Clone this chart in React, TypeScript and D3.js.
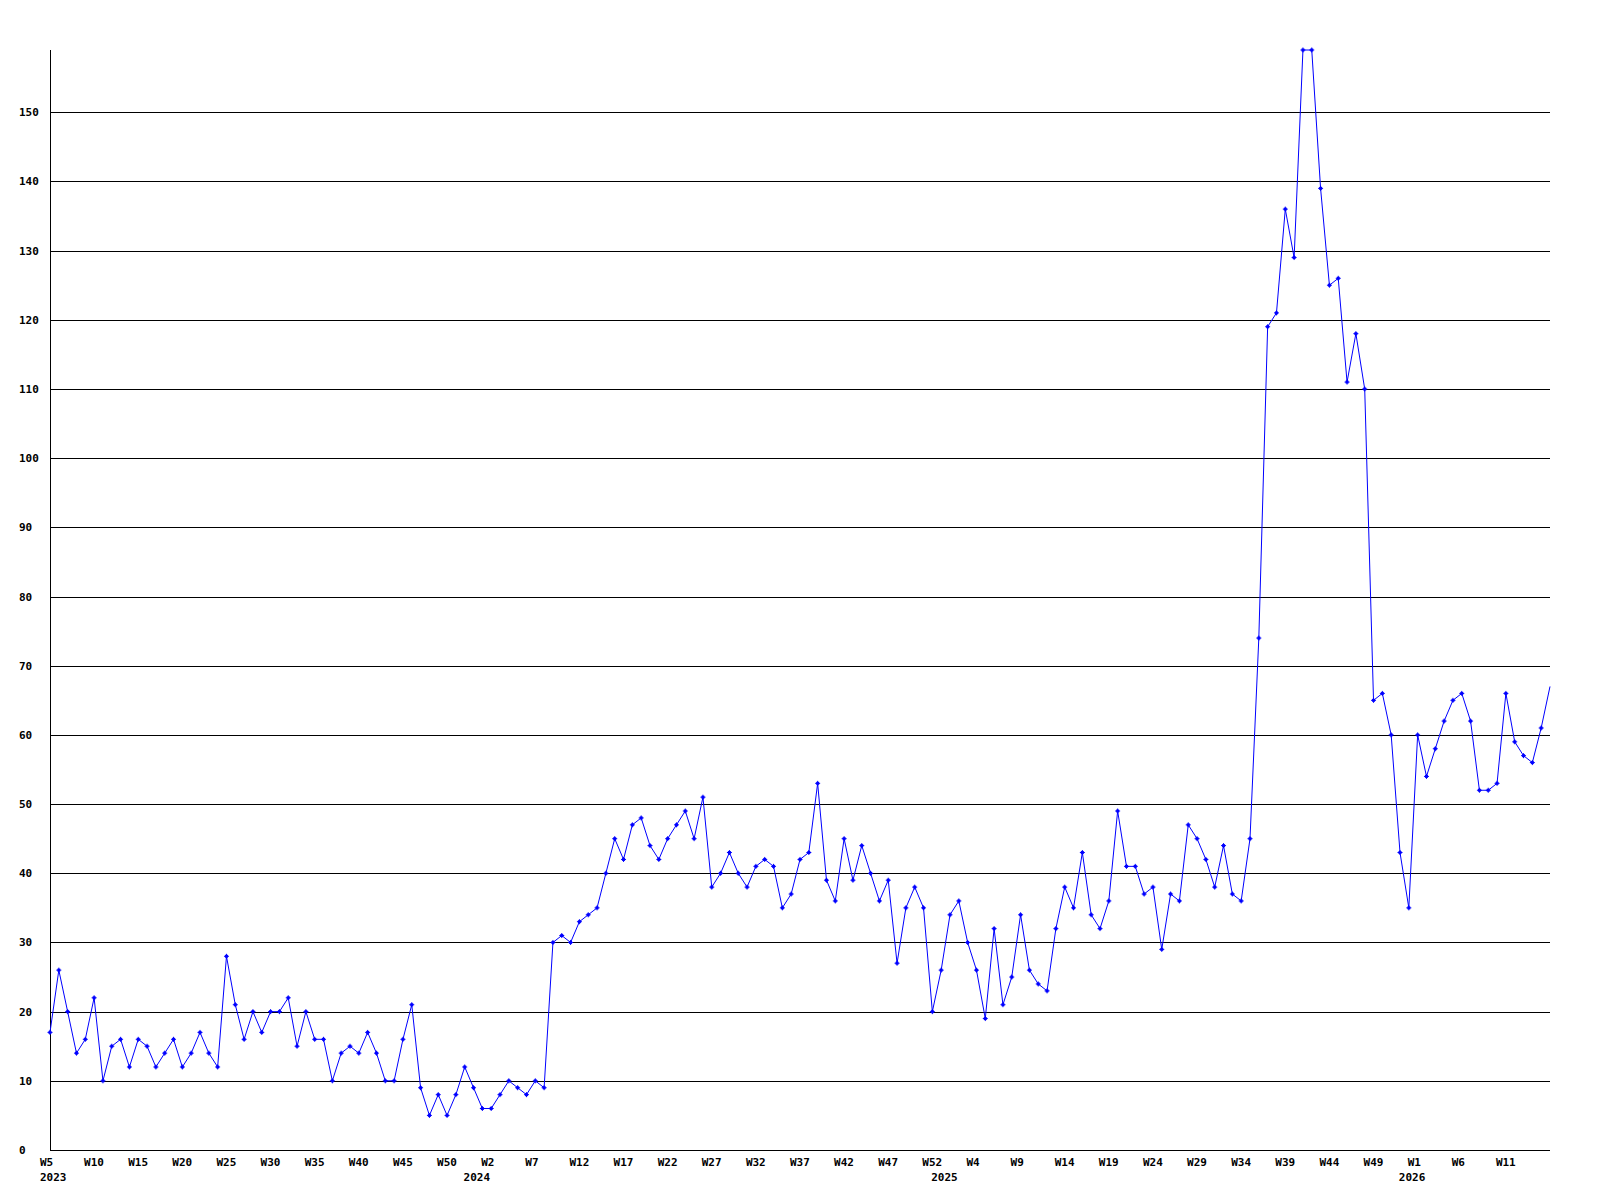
import React, { useRef, useEffect } from 'react';
import * as d3 from 'd3';

// weekly counts, one array per year (2023 starts at W5, later years at W0)
const years = [2023, 2024, 2025, 2026];
const firstWeek = [5, 0, 0, 0];

const counts2023 = [
  17, 26, 20, 14, 16, 22, 10, 15, 16, 12, 16, 15, 12, 14, 16, 12, 14, 17, 14, 12,
  28, 21, 16, 20, 17, 20, 20, 22, 15, 20, 16, 16, 10, 14, 15, 14, 17, 14, 10, 10,
  16, 21, 9, 5, 8, 5, 8, 12,
];
const counts2024 = [
  9, 6, 6, 8, 10, 9, 8, 10, 9, 30, 31, 30, 33, 34, 35, 40, 45, 42, 47, 48,
  44, 42, 45, 47, 49, 45, 51, 38, 40, 43, 40, 38, 41, 42, 41, 35, 37, 42, 43, 53,
  39, 36, 45, 39, 44, 40, 36, 39, 27, 35, 38, 35, 20,
];
const counts2025 = [
  26, 34, 36, 30, 26, 19, 32, 21, 25, 34, 26, 24, 23, 32, 38, 35, 43, 34, 32, 36,
  49, 41, 41, 37, 38, 29, 37, 36, 47, 45, 42, 38, 44, 37, 36, 45, 74, 119, 121, 136,
  129, 159, 159, 139, 125, 126, 111, 118, 110, 65, 66, 60, 43,
];
const counts2026 = [35, 60, 54, 58, 62, 65, 66, 62, 52, 52, 53, 66, 59, 57, 56, 61, 67];

const yTicks = [0, 10, 20, 30, 40, 50, 60, 70, 80, 90, 100, 110, 120, 130, 140, 150];
const yMax = 159;
const labelEvery = 5;

export default function App() {
  const svgRef = useRef<SVGSVGElement | null>(null);

  useEffect(() => {
    const width = 1600;
    const height = 1200;
    const margin = { top: 50, right: 50, bottom: 50, left: 50 };
    const font = '"DejaVu Sans Mono", monospace';

    // flatten into one series of week points
    const data: { year: number; week: number; value: number; first: boolean }[] = [];
    [counts2023, counts2024, counts2025, counts2026].forEach((arr, yi) => {
      arr.forEach((v, k) => {
        data.push({ year: years[yi], week: firstWeek[yi] + k, value: v, first: k === 0 });
      });
    });

    const svg = d3.select(svgRef.current);
    svg.selectAll('*').remove();
    svg.attr('width', width).attr('height', height);

    const x = d3
      .scaleLinear()
      .domain([0, data.length - 1])
      .range([margin.left, width - margin.right]);

    const y = d3
      .scaleLinear()
      .domain([0, yMax])
      .range([height - margin.bottom, margin.top]);

    const crisp = (v: number) => Math.round(v) + 0.5;

    // Grid lines
    svg
      .append('g')
      .selectAll('line')
      .data(yTicks.filter((t) => t > 0))
      .join('line')
      .attr('x1', margin.left)
      .attr('x2', width - margin.right)
      .attr('y1', (d) => crisp(y(d)))
      .attr('y2', (d) => crisp(y(d)))
      .attr('stroke', '#000')
      .attr('shape-rendering', 'crispEdges');

    // Axes lines
    svg
      .append('line')
      .attr('x1', crisp(margin.left))
      .attr('x2', crisp(margin.left))
      .attr('y1', margin.top)
      .attr('y2', crisp(y(0)))
      .attr('stroke', '#000')
      .attr('shape-rendering', 'crispEdges');
    svg
      .append('line')
      .attr('x1', margin.left)
      .attr('x2', width - margin.right)
      .attr('y1', crisp(y(0)))
      .attr('y2', crisp(y(0)))
      .attr('stroke', '#000')
      .attr('shape-rendering', 'crispEdges');

    // Y labels
    svg
      .append('g')
      .selectAll('text')
      .data(yTicks)
      .join('text')
      .attr('x', 19)
      .attr('y', (d) => y(d) + 4)
      .attr('font-family', font)
      .attr('font-weight', 'bold')
      .attr('font-size', '11px')
      .attr('fill', '#000')
      .text((d) => d);

    // X labels: every 5th week (not the last point), year under the first week of each year
    const idx = d3.range(data.length);
    svg
      .append('g')
      .selectAll('text')
      .data(idx.filter((i) => i % labelEvery === 0 && i < data.length - 1))
      .join('text')
      .attr('x', (i) => x(i) - 10)
      .attr('y', 1166)
      .attr('font-family', font)
      .attr('font-weight', 'bold')
      .attr('font-size', '11px')
      .attr('fill', '#000')
      .text((i) => `W${data[i].week}`);

    svg
      .append('g')
      .selectAll('text')
      .data(idx.filter((i) => data[i].first))
      .join('text')
      .attr('x', (i) => x(i) - 10)
      .attr('y', 1181)
      .attr('font-family', font)
      .attr('font-weight', 'bold')
      .attr('font-size', '11px')
      .attr('fill', '#000')
      .text((i) => data[i].year);

    // Line
    const line = d3
      .line<number>()
      .x((i) => x(i))
      .y((i) => y(data[i].value));

    svg
      .append('path')
      .datum(idx)
      .attr('d', line)
      .attr('fill', 'none')
      .attr('stroke', '#0000ff')
      .attr('stroke-width', 1);

    // Markers (small plus shapes), last point has none
    const marks = svg
      .append('g')
      .attr('fill', '#0000ff')
      .selectAll('g')
      .data(idx.slice(0, -1))
      .join('g')
      .attr('transform', (i) => `translate(${x(i)},${y(data[i].value)})`);
    marks.append('rect').attr('x', -2.5).attr('y', -0.5).attr('width', 5).attr('height', 1);
    marks.append('rect').attr('x', -0.5).attr('y', -2.5).attr('width', 1).attr('height', 5);
    marks.append('rect').attr('x', -1.5).attr('y', -1.5).attr('width', 3).attr('height', 3);
  }, []);

  return (
    <div style={{ position: 'absolute', left: 0, top: 0, background: '#fff' }}>
      <svg ref={svgRef} style={{ display: 'block' }} />
    </div>
  );
}
